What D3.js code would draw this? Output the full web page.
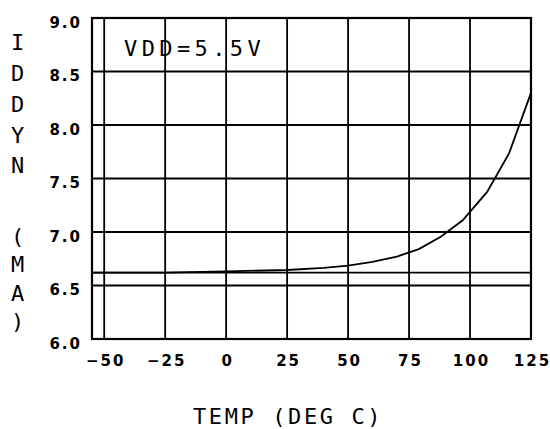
<!DOCTYPE html>
<html>
<head>
<meta charset="utf-8">
<script src="https://cdn.jsdelivr.net/npm/d3@7"></script>
<style>
  body { margin: 0; background: #fff; }
  svg { display: block; }
  .tick text { font-family: 'DejaVu Sans', sans-serif; font-weight: bold; font-size: 15px; letter-spacing: 2px; fill: #000; }
  .label { font-family: 'DejaVu Sans Mono', monospace; font-size: 22px; fill: #000; }
</style>
</head>
<body>
<div id="chart"></div>
<script>
// temperature (deg C) and IDDYN (mA)
const temps = [-55, -25, 0, 25, 40, 50, 60, 70, 79, 88, 97, 107, 116, 125]
const iddyn = [6.62, 6.62, 6.632, 6.645, 6.665, 6.685, 6.72, 6.77, 6.84, 6.955, 7.11, 7.375, 7.735, 8.30]
const xTicks = [-50, -25, 0, 25, 50, 75, 100, 125]
const yTicks = [6.0, 6.5, 7.0, 7.5, 8.0, 8.5, 9.0]
const refLine = 6.62
const note = 'VDD=5.5V'
const xTitle = 'TEMP (DEG C)'
const yTitle = ['I', 'D', 'D', 'Y', 'N', '(', 'M', 'A', ')']

const config = {
  width: 550,
  height: 429,
  margin: { top: 18, right: 19, bottom: 90, left: 92 }
}

const x = d3.scaleLinear()
  .domain([-55, 125])
  .range([config.margin.left, config.width - config.margin.right])

const y = d3.scaleLinear()
  .domain([6, 9])
  .range([config.height - config.margin.bottom, config.margin.top])

const svg = d3.select('#chart')
  .append('svg')
    .attr('width', config.width)
    .attr('height', config.height)
    .attr('viewBox', [0, 0, config.width, config.height])

// grid
svg.append('g')
  .attr('class', 'grid')
  .attr('stroke', '#000')
  .attr('stroke-width', 1.8)
  .call(g => g.selectAll('line.v')
    .data(xTicks)
    .join('line')
      .attr('class', 'v')
      .attr('x1', d => x(d)).attr('x2', d => x(d))
      .attr('y1', y(6)).attr('y2', y(9)))
  .call(g => g.selectAll('line.h')
    .data(yTicks.concat([refLine]))
    .join('line')
      .attr('class', 'h')
      .attr('x1', x(-55)).attr('x2', x(125))
      .attr('y1', d => y(d)).attr('y2', d => y(d)))

// frame
svg.append('rect')
  .attr('x', x(-55))
  .attr('y', y(9))
  .attr('width', x(125) - x(-55))
  .attr('height', y(6) - y(9))
  .attr('fill', 'none')
  .attr('stroke', '#000')
  .attr('stroke-width', 2.2)

// curve
svg.append('path')
  .datum(temps.map((t, i) => [t, iddyn[i]]))
  .attr('fill', 'none')
  .attr('stroke', '#000')
  .attr('stroke-width', 1.8)
  .attr('d', d3.line().x(d => x(d[0])).y(d => y(d[1])))

// axes (labels only)
svg.append('g')
  .attr('transform', `translate(0, ${y(6)})`)
  .call(d3.axisBottom(x).tickValues(xTicks).tickSize(0).tickPadding(16).tickFormat(d3.format('d')))
  .call(g => g.select('.domain').remove())
  .call(g => g.selectAll('.tick text').attr('dx', '1px'))

svg.append('g')
  .attr('transform', `translate(${x(-55)}, 0)`)
  .call(d3.axisLeft(y).tickValues(yTicks).tickSize(0).tickPadding(10).tickFormat(d3.format('.1f')))
  .call(g => g.select('.domain').remove())
  .call(g => g.selectAll('.tick text').attr('dy', '0.63em'))

// texts
svg.append('text')
  .attr('class', 'label')
  .attr('x', 124)
  .attr('y', 56)
  .attr('letter-spacing', 4.4)
  .text(note)

svg.append('text')
  .attr('class', 'label')
  .attr('x', 193)
  .attr('y', 424)
  .attr('letter-spacing', 2.6)
  .text(xTitle)

const titleY = [50, 81, 112, 143, 173, 244, 272, 301, 329]
svg.append('g')
  .selectAll('text')
  .data(yTitle)
  .join('text')
    .attr('class', 'label')
    .attr('text-anchor', 'middle')
    .attr('x', 17.5)
    .attr('y', (d, i) => titleY[i])
    .text(d => d)
</script>
</body>
</html>
